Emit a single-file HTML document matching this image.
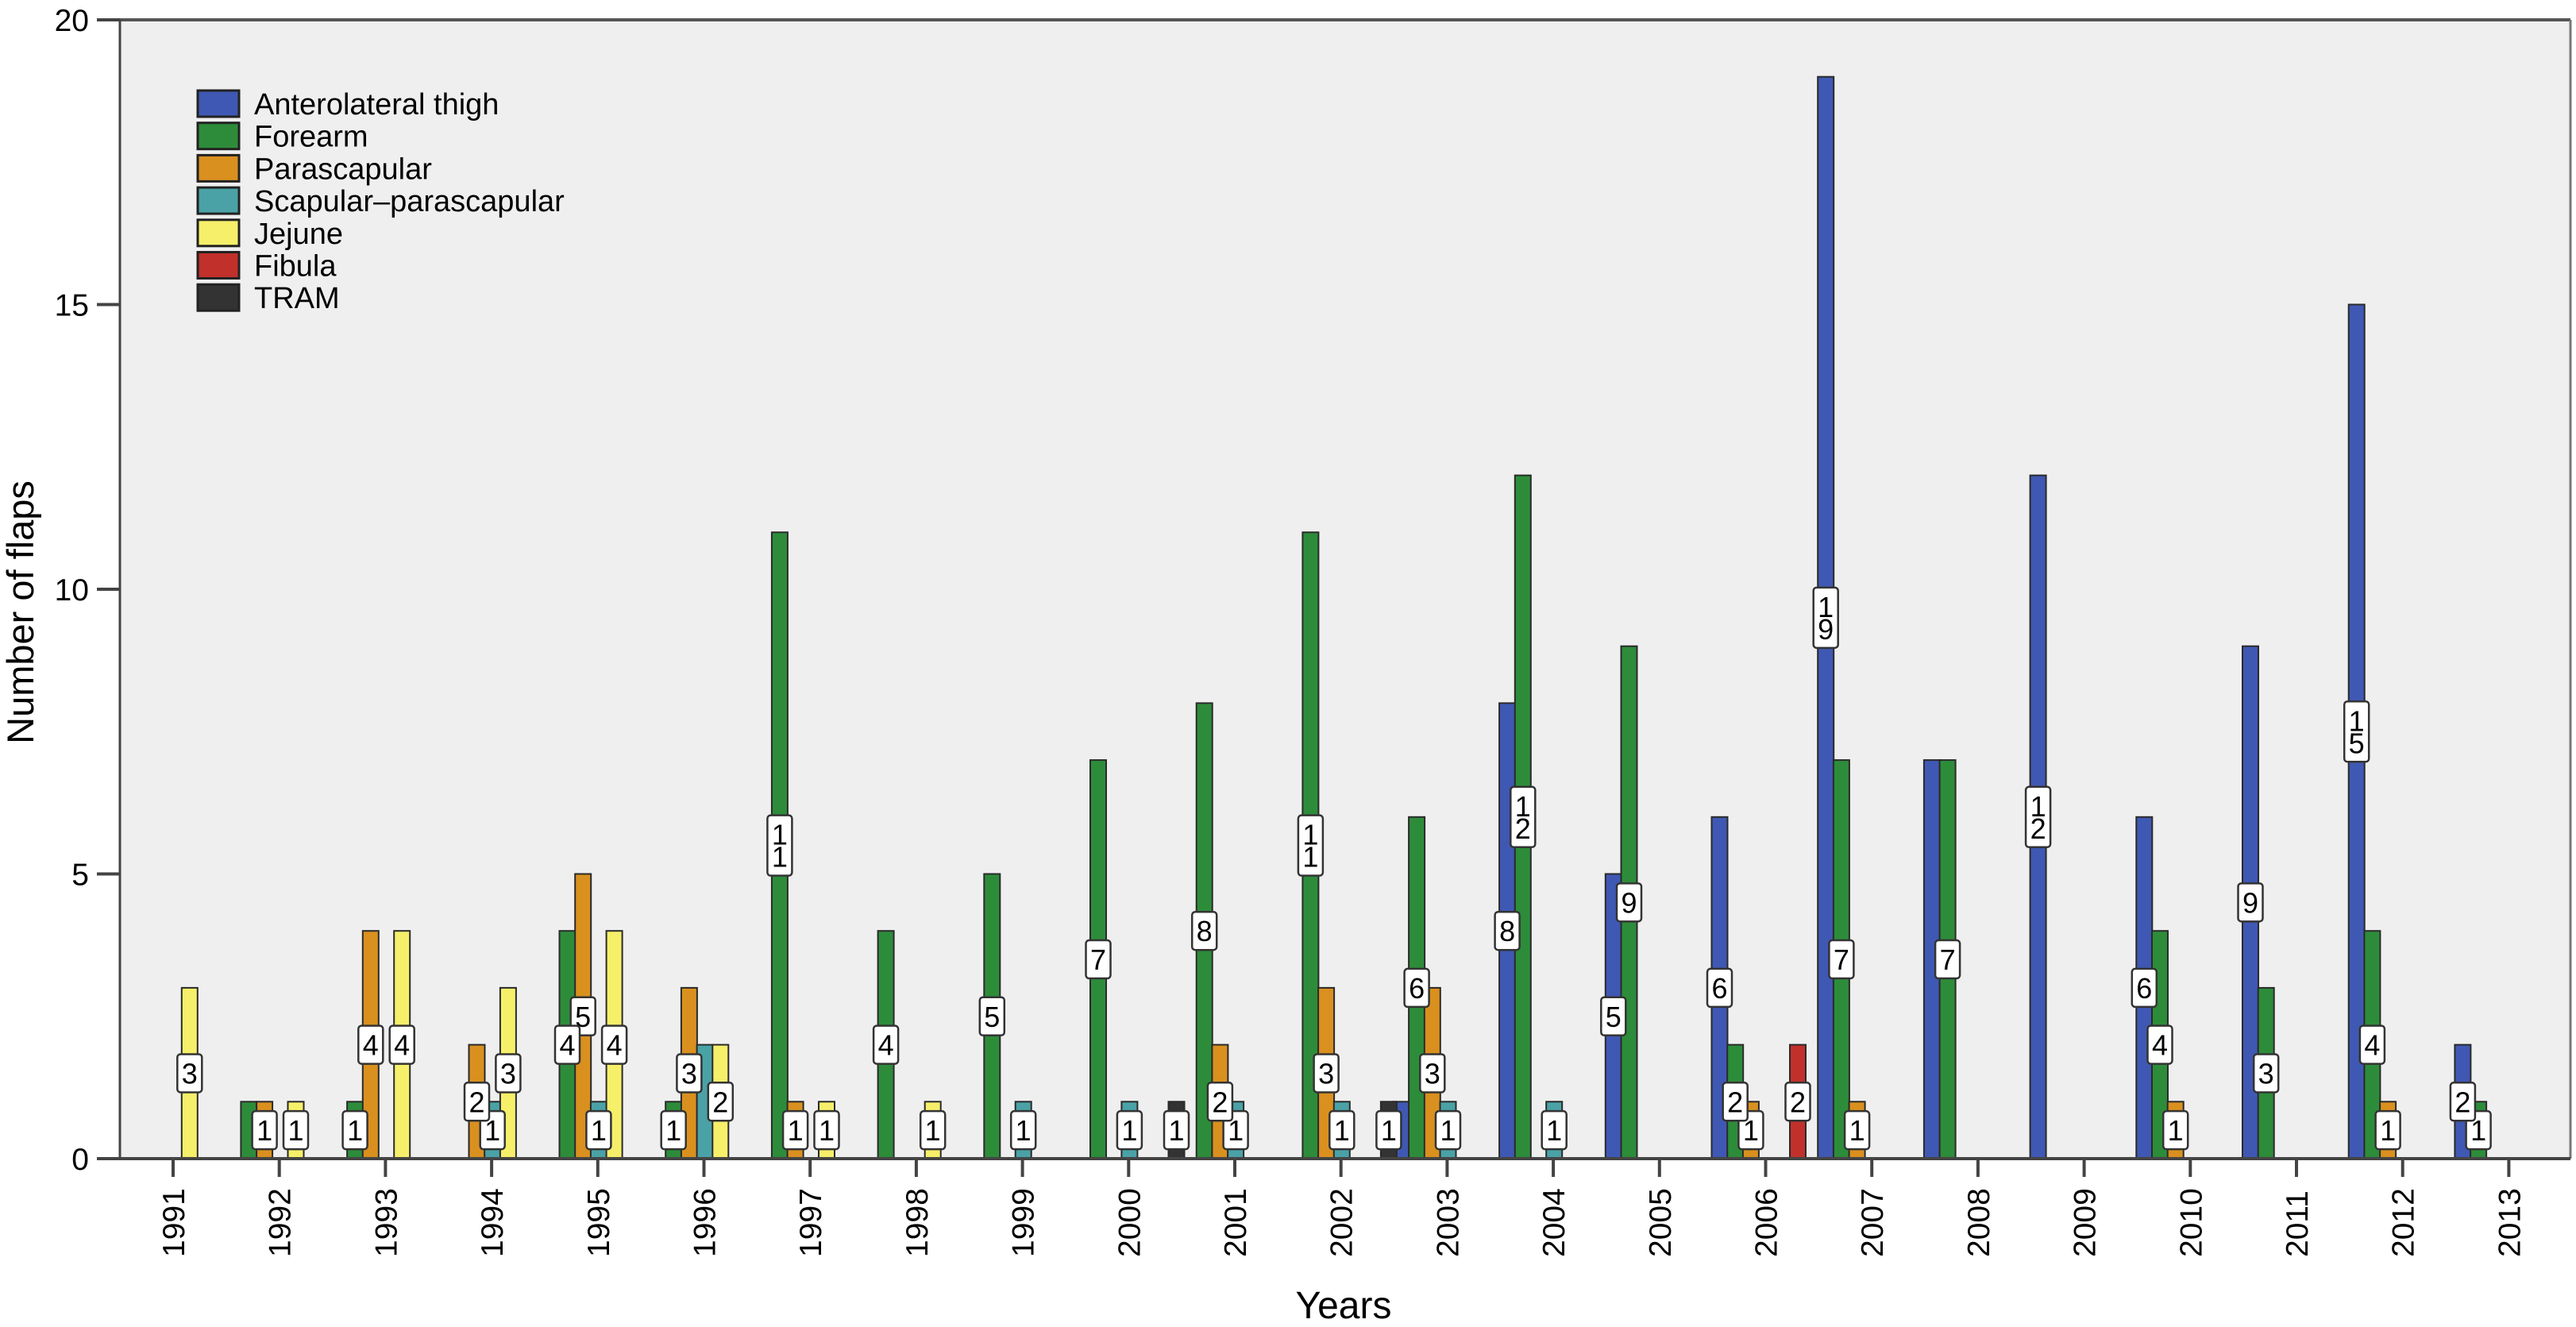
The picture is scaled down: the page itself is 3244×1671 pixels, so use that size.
<!DOCTYPE html>
<html><head><meta charset="utf-8"><style>
html,body{margin:0;padding:0;background:#fff;}
svg{display:block;font-family:"Liberation Sans",Arial,sans-serif;}
</style></head><body>
<svg id="chart" width="3244" height="1671" viewBox="0 0 3244 1671" xmlns="http://www.w3.org/2000/svg">
<rect x="150" y="25" width="3087" height="1434" fill="#efefef"/>
<g id="bars"></g>
<g id="labels"></g>
<line x1="122" y1="25" x2="3237" y2="25" stroke="#555" stroke-width="4"/>
<line x1="3237" y1="25" x2="3237" y2="1459" stroke="#777" stroke-width="3"/>
<line x1="151" y1="25" x2="151" y2="1459" stroke="#444" stroke-width="3"/>
<line x1="122" y1="1459" x2="3237" y2="1459" stroke="#444" stroke-width="4"/>
<g id="yaxis"></g>
<g id="xaxis"></g>
<text x="1692" y="1660" font-size="48" text-anchor="middle" fill="#000">Years</text>
<text transform="translate(42,771) rotate(-90)" font-size="47" text-anchor="middle" fill="#000">Number of flaps</text>
<g id="legend"></g>
</svg>
<script>
const years = ["1991","1992","1993","1994","1995","1996","1997","1998","1999","2000","2001","2002","2003","2004","2005","2006","2007","2008","2009","2010","2011","2012","2013"];
const seriesNames = ["Anterolateral thigh","Forearm","Parascapular","Scapular\u2013parascapular","Jejune","Fibula","TRAM"];
const seriesColors = ["#3f58b3","#2d8c3a","#d9901f","#4aa2a6","#f6ef6a","#c1302b","#333333"];
const altThigh     = [0,0,0,0,0,0,0,0,0,0,0,0,1,8,5,6,19,7,12,6,9,15,2];
const forearm      = [0,1,1,0,4,1,11,4,5,7,8,11,6,12,9,2,7,7,0,4,3,4,1];
const parascapular = [0,1,4,2,5,3,1,0,0,0,2,3,3,0,0,1,1,0,0,1,0,1,0];
const scapPara     = [0,0,0,1,1,2,0,0,1,1,1,1,1,1,0,0,0,0,0,0,0,0,0];
const jejune       = [3,1,4,3,4,2,1,1,0,0,0,0,0,0,0,0,0,0,0,0,0,0,0];
const fibula       = [0,0,0,0,0,0,0,0,0,0,0,0,0,0,0,2,0,0,0,0,0,0,0];
const tram         = [0,0,0,0,0,0,0,0,0,1,0,1,0,0,0,0,0,0,0,0,0,0,0];
const yTicks = [0,5,10,15,20];

const series = [altThigh, forearm, parascapular, scapPara, jejune, fibula, tram];
const NS = "http://www.w3.org/2000/svg";
const y0 = 1459, yTop = 25, yMax = 20;
function yScale(v){ return y0 - v*(y0-yTop)/yMax; }
const step = 133.7;
function xTick(i){ return 218 + i*step; }
function xBar(i, s){ return xTick(i) - 68 + s*19.7; }
const barW = 20;
function mk(tag, attrs, parent){
  const e = document.createElementNS(NS, tag);
  for (const k in attrs) e.setAttribute(k, attrs[k]);
  parent.appendChild(e);
  return e;
}
const gBars = document.getElementById('bars');
const gLab = document.getElementById('labels');
series.forEach((arr, s) => {
  arr.forEach((v, i) => {
    if (!v) return;
    const x = xBar(i, s), yt = yScale(v);
    const r = mk('rect', {x: x, y: yt, width: barW, height: y0 - yt, fill: seriesColors[s], stroke: '#2a2a2a', 'stroke-width': 2}, gBars);
    
    
  });
});
const placed = [];
for (let s = series.length - 1; s >= 0; s--) {
  series[s].forEach((v, i) => {
    if (!v) return;
    const digits = String(v).split('');
    const cx = xBar(i, s) + barW/2, cy = (yScale(v) + y0)/2;
    if (placed.some(p => Math.abs(p[0]-cx) < 26 && Math.abs(p[1]-cy) < 30)) return;
    placed.push([cx, cy]);
    const h = 20 + digits.length*28, w = 31;
    const g = mk('g', {}, gLab);
    
    
    mk('rect', {x: cx - w/2, y: cy - h/2, width: w, height: h, rx: 4, fill: '#fff', stroke: '#333', 'stroke-width': 2.5}, g);
    digits.forEach((d, k) => {
      const t = mk('text', {x: cx, y: cy - h/2 + 10 + 28*(k+1) - 1, 'font-size': 36, 'text-anchor': 'middle', fill: '#000'}, g);
      t.textContent = d;
    });
  });
}
const gy = document.getElementById('yaxis');
yTicks.forEach(t => {
  const y = yScale(t);
  const l = mk('line', {x1: 122, y1: y, x2: 151, y2: y, stroke: '#444', 'stroke-width': 4}, gy);
  
  
  const tx = mk('text', {x: 112, y: y + 14, 'font-size': 39, 'text-anchor': 'end', fill: '#000'}, gy);
  
  
  tx.textContent = t;
});
const gx = document.getElementById('xaxis');
years.forEach((yr, i) => {
  const x = xTick(i);
  const l = mk('line', {x1: x, y1: y0, x2: x, y2: 1482, stroke: '#444', 'stroke-width': 4}, gx);
  
  
  const tx = mk('text', {transform: 'translate(' + (x + 14) + ',1583) rotate(-90)', 'font-size': 39, 'text-anchor': 'start', fill: '#000'}, gx);
  
  
  tx.textContent = yr;
});
const gL = document.getElementById('legend');
seriesNames.forEach((n, s) => {
  const cy = 130 + s*40.7;
  const g = mk('g', {}, gL);
  
  
  mk('rect', {x: 249, y: cy - 16, width: 52, height: 33, fill: seriesColors[s], stroke: '#222', 'stroke-width': 3}, g);
  const t = mk('text', {x: 320, y: cy + 14, 'font-size': 38, fill: '#000'}, g);
  t.textContent = n;
});
</script>
</body></html>
